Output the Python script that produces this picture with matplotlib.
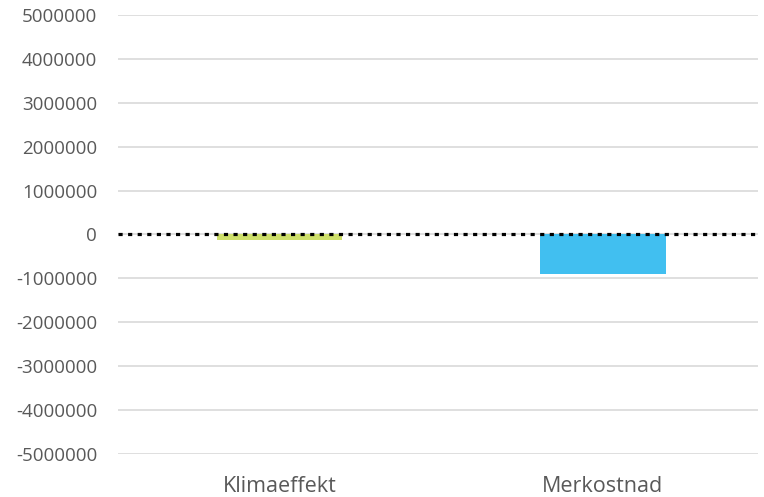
import matplotlib
matplotlib.use("Agg")
import matplotlib.pyplot as plt
from matplotlib.ticker import FuncFormatter

categories = ["Klimaeffekt", "Merkostnad"]
values = [-120000, -900000]
colors = ["#CEDF6A", "#41BFF0"]
y_ticks = [5000000, 4000000, 3000000, 2000000, 1000000, 0,
           -1000000, -2000000, -3000000, -4000000, -5000000]

plt.rcParams["font.family"] = ["Open Sans", "DejaVu Sans"]

fig = plt.figure(figsize=(7.64, 4.97), dpi=100)
ax = fig.add_axes([0.1545, 0.0865, 0.8375, 0.8835])

x = list(range(len(categories)))
ax.bar(x, values, width=0.387, color=colors, zorder=2)

ax.axhline(0, color="black", linewidth=2.3, linestyle=(0, (1.3, 1.7)),
           dash_capstyle="butt", zorder=3)

ax.set_ylim(-5000000, 5000000)
ax.set_xlim(-0.499, 1.479)
ax.set_yticks(y_ticks)
ax.yaxis.set_major_formatter(FuncFormatter(lambda v, p: f"{int(v)}"))
ax.set_xticks(x)
ax.set_xticklabels(categories)

ax.grid(axis="y", color="#D9D9D9", linewidth=1.2, zorder=0)
for s in ax.spines.values():
    s.set_visible(False)
ax.tick_params(axis="both", length=0, colors="#595959")
ax.tick_params(axis="y", labelsize=13.5, pad=15)
ax.tick_params(axis="x", labelsize=15.5, pad=16)

fig.savefig("out.png", dpi=100)
